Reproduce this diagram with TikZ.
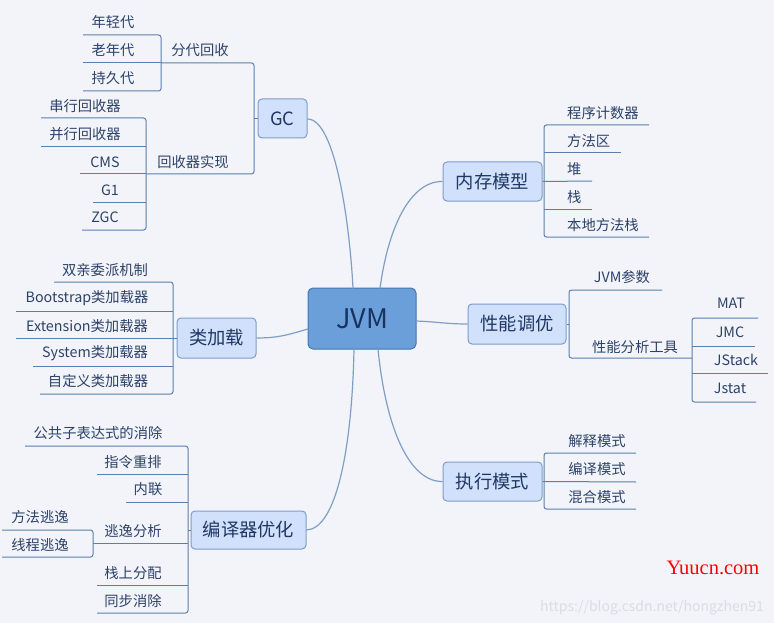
\documentclass[tikz,border=0pt]{standalone}
\usepackage{fontspec}
\setmainfont{Noto Sans CJK SC}
\newfontfamily\wmserif{Liberation Serif}
\definecolor{bgcol}{RGB}{242,244,250}
\definecolor{boxfill}{RGB}{210,225,251}
\definecolor{boxborder}{RGB}{124,157,203}
\definecolor{boxtext}{RGB}{30,55,100}
\definecolor{rootfill}{RGB}{106,159,217}
\definecolor{rootborder}{RGB}{70,118,178}
\definecolor{rootText}{RGB}{25,50,95}
\definecolor{linkcol}{RGB}{128,158,196}
\definecolor{brcol}{RGB}{92,126,172}
\definecolor{labtext}{RGB}{45,66,104}
\definecolor{wmgray}{RGB}{218,221,228}
\begin{document}
\begin{tikzpicture}[x=1pt,y=-1pt,
  topic/.style={draw=boxborder,fill=boxfill,rounded corners=4pt,line width=1pt,text=boxtext,
    font=\fontsize{18.3}{20}\selectfont,inner sep=0pt},
  rootbox/.style={draw=rootborder,fill=rootfill,rounded corners=5pt,line width=1pt,text=rootText,
    font=\fontsize{27}{29}\selectfont,inner sep=0pt,minimum width=108pt,minimum height=61pt},
  lab/.style={text=labtext,font=\fontsize{14.3}{16}\selectfont,inner sep=0pt},
  link/.style={draw=linkcol,line width=1.2pt},
  br/.style={draw=brcol,line width=1pt,rounded corners=2.5pt}]
\fill[bgcol] (0,0) rectangle (774,623);
\useasboundingbox (0,0) rectangle (774,623);

% root and topics
\node[rootbox] (jvm) at (362,318.5) {JVM};
\node[topic,minimum width=49pt,minimum height=39pt] (gc) at (282.5,118.5) {GC};
\node[topic,minimum width=79pt,minimum height=40pt] (cl) at (216.5,338) {类加载};
\node[topic,minimum width=115pt,minimum height=38pt] (jit) at (248.5,530) {编译器优化};
\node[topic,minimum width=99pt,minimum height=39pt] (mem) at (492.5,181.5) {内存模型};
\node[topic,minimum width=98pt,minimum height=40pt] (perf) at (517,324) {性能调优};
\node[topic,minimum width=99pt,minimum height=39pt] (exec) at (492.5,481.5) {执行模式};

% curved links
\coordinate (jgc) at (353,288.5);
\coordinate (jmem) at (380,288.5);
\coordinate (jcl) at (308,329);
\coordinate (jperf) at (416,321);
\coordinate (jjit) at (354,349);
\coordinate (jexec) at (378,349);
\draw[link] (gc.east |- 0,119) .. controls (336,119) and (350,228) .. (jgc);
\draw[link] (jmem) .. controls (388,228) and (410,181) .. (mem.west);
\draw[link] (cl.east) .. controls (280,338) and (290,334) .. (jcl);
\draw[link] (jperf) .. controls (440,322) and (446,324) .. (perf.west);
\draw[link] (jjit) .. controls (352,450) and (336,529) .. (jit.east);
\draw[link] (jexec) .. controls (386,430) and (410,482) .. (exec.west);

% GC branch
\draw[br] (161,63) -- (254,63) -- (254,174) -- (146,174);
\draw[br] (254,118.5) -- (gc.west);
\node[lab] (fd) at (200,50) {分代回收};
\node[lab] (hs) at (193,162) {回收器实现};
\draw[br] (83,35) -- (161,35) -- (161,91) -- (83,91);
\draw[br] (83,63) -- (161,63);
\node[lab] (ng) at (113,22) {年轻代};
\node[lab] (og) at (113,50) {老年代};
\node[lab] (pg) at (113,78) {持久代};
\draw[br] (41,118) -- (146,118) -- (146,230) -- (82,230);
\draw[br] (41,147) -- (146,147);
\draw[br] (80,174) -- (146,174);
\draw[br] (93,202) -- (146,202);
\node[lab] (c1) at (85,106) {串行回收器};
\node[lab] (c2) at (85,134) {并行回收器};
\node[lab] (c3) at (105,162) {CMS};
\node[lab] (c4) at (110,190) {G1};
\node[lab] (c5) at (105,217) {ZGC};

% class loading branch
\draw[br] (54,282) -- (173,282) -- (173,394) -- (40,394);
\draw[br] (16,311) -- (173,311);
\draw[br] (16,338) -- (cl.west);
\draw[br] (33,366) -- (173,366);
\node[lab] (l1) at (105,270) {双亲委派机制};
\node[lab] (l2) at (87,298) {Bootstrap类加载器};
\node[lab] (l3) at (87,326) {Extension类加载器};
\node[lab] (l4) at (95,353) {System类加载器};
\node[lab] (l5) at (98,381) {自定义类加载器};

% compiler optimisation branch
\draw[br] (25,446) -- (188,446) -- (188,613) -- (97,613);
\draw[br] (97,474) -- (188,474);
\draw[br] (126,502) -- (188,502);
\draw[br] (93,543) -- (188,543);
\draw[br] (97,585) -- (188,585);
\draw[br] (188,530) -- (jit.west);
\draw[br] (2,530) -- (93,530) -- (93,557) -- (2,557);
\node[lab] (o1) at (98,433) {公共子表达式的消除};
\node[lab] (o2) at (133,462) {指令重排};
\node[lab] (o3) at (148,489) {内联};
\node[lab] (o4) at (133,531) {逃逸分析};
\node[lab] (o5) at (133,573) {栈上分配};
\node[lab] (o6) at (133,601) {同步消除};
\node[lab] (e1) at (40,517) {方法逃逸};
\node[lab] (e2) at (40,545) {线程逃逸};

% memory model branch
\draw[br] (649,125) -- (544,125) -- (544,237) -- (649,237);
\draw[br] (544,153) -- (621,153);
\draw[br] (mem.east) -- (592,181);
\draw[br] (544,209) -- (592,209);
\node[lab,anchor=west] (m1) at (567,113) {程序计数器};
\node[lab,anchor=west] (m2) at (567,141) {方法区};
\node[lab,anchor=west] (m3) at (567,169) {堆};
\node[lab,anchor=west] (m4) at (567,197) {栈};
\node[lab,anchor=west] (m5) at (567,225) {本地方法栈};

% performance tuning branch
\draw[br] (662,290) -- (569,290) -- (569,358) -- (692,358);
\draw[br] (perf.east) -- (569,324);
\node[lab] (p1) at (622,277) {JVM参数};
\node[lab] (p2) at (635,347) {性能分析工具};
\draw[br] (758,318) -- (692,318) -- (692,402) -- (756,402);
\draw[br] (692,346) -- (755,346);
\draw[br] (692,373) -- (768,373);
\node[lab] (t1) at (731,303) {MAT};
\node[lab] (t2) at (730,332) {JMC};
\node[lab] (t3) at (736,360) {JStack};
\node[lab] (t4) at (730,388) {Jstat};

% execution mode branch
\draw[br] (636,453) -- (544,453) -- (544,509) -- (636,509);
\draw[br] (exec.east) -- (636,482);
\node[lab] (x1) at (597,441) {解释模式};
\node[lab] (x2) at (597,469) {编译模式};
\node[lab] (x3) at (597,497) {混合模式};

% watermarks
\node[text=red,font=\wmserif\fontsize{20.5}{22}\selectfont,inner sep=0pt] (yu) at (713,568) {Yuucn.com};
\node[text=wmgray,font=\fontsize{14}{16}\selectfont,inner sep=0pt,anchor=west] (wm) at (540,608) {https://blog.csdn.net/hongzhen91};
\end{tikzpicture}
\end{document}
